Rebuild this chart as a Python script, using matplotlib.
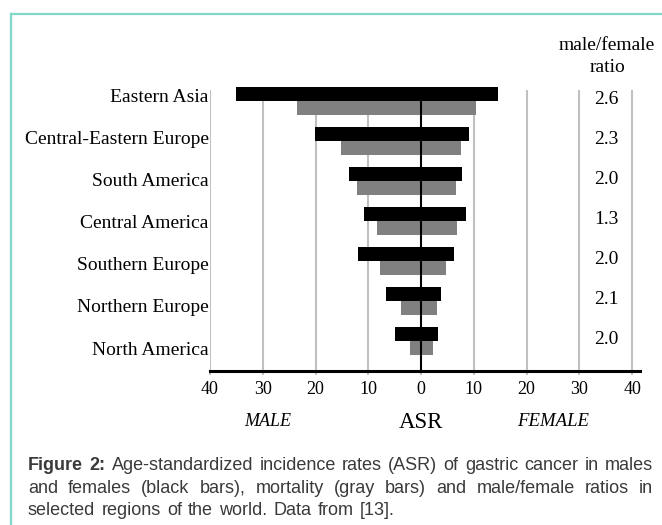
import matplotlib
matplotlib.use('Agg')
import matplotlib.pyplot as plt
from matplotlib.lines import Line2D

regions = ['Eastern Asia', 'Central-Eastern Europe', 'South America', 'Central America',
           'Southern Europe', 'Northern Europe', 'North America']
# incidence (black bars)
inc_male   = [35.1, 20.1, 13.7, 10.9, 11.9, 6.7, 4.9]
inc_female = [14.6, 9.0, 7.8, 8.5, 6.3, 3.7, 3.2]
# mortality (gray bars)
mort_male   = [23.6, 15.2, 12.2, 8.3, 7.8, 3.8, 2.0]
mort_female = [10.4, 7.6, 6.6, 6.9, 4.7, 3.1, 2.3]
ratios = ['2.6', '2.3', '2.0', '1.3', '2.0', '2.1', '2.0']
xticks = [-40, -30, -20, -10, 0, 10, 20, 30, 40]
xticklabels = ['40', '30', '20', '10', '0', '10', '20', '30', '40']

W, H = 662, 525
serif = 'Liberation Serif'
sans = 'Liberation Sans'

fig = plt.figure(figsize=(W / 100, H / 100), dpi=100)
fig.patch.set_facecolor('white')

# frame around the figure (only top and left visible)
fig.add_artist(Line2D([10.5 / W, 1.0], [1 - 14 / H, 1 - 14 / H], color='#80d8c8', lw=1.6))
fig.add_artist(Line2D([10.5 / W, 10.5 / W], [1 - 14 / H, 0.0], color='#80d8c8', lw=1.6))

ax = fig.add_axes([210 / W, 1 - 371 / H, 430 / W, 281 / H])
ax.set_xlim(-40, 41.5)
ax.set_ylim(6.75, -0.275)

n = len(regions)
ypos = list(range(n))
off = 0.181
bh = 0.3625

for x in xticks:
    if x != 0:
        ax.axvline(x, color='#c0c0c0', lw=1.5, zorder=1)

ax.barh([y - off for y in ypos], [m + f for m, f in zip(inc_male, inc_female)],
        left=[-m for m in inc_male], height=bh, color='black', zorder=2, clip_on=False)
ax.barh([y + off for y in ypos], [m + f for m, f in zip(mort_male, mort_female)],
        left=[-m for m in mort_male], height=bh, color='#808080', zorder=2, clip_on=False)
ax.axvline(0, color='black', lw=1.5, zorder=3)

for s in ['top', 'right', 'left']:
    ax.spines[s].set_visible(False)
ax.spines['bottom'].set_linewidth(2.2)
ax.spines['bottom'].set_color('black')
ax.spines['bottom'].set_zorder(4)

ax.set_xticks(xticks)
ax.set_xticklabels(xticklabels, fontfamily=serif, fontsize=13)
ax.tick_params(axis='x', length=3, width=1.5, color='#c0c0c0', pad=4)
# region labels sit on a slightly wider spacing than the bars
ax.set_yticks([y * 1.055 - 0.15 for y in ypos])
ax.set_yticklabels(regions, fontfamily=serif, fontsize=14)
ax.tick_params(axis='y', length=0, pad=1)

# male/female ratio column
for y, r in zip(ypos, ratios):
    ax.text(35.2, y - 0.05, r, ha='center', va='center', fontfamily=serif, fontsize=14)
fig.text(607 / W, 1 - 45 / H, 'male/female', ha='center', va='center', fontfamily=serif, fontsize=14)
fig.text(607 / W, 1 - 68 / H, 'ratio', ha='center', va='center', fontfamily=serif, fontsize=14)

fig.text(268 / W, 1 - 422 / H, 'MALE', ha='center', va='center', fontfamily=serif,
         fontsize=13, style='italic')
fig.text(421 / W, 1 - 422 / H, 'ASR', ha='center', va='center', fontfamily=serif, fontsize=16.5)
fig.text(553 / W, 1 - 422 / H, 'FEMALE', ha='center', va='center', fontfamily=serif,
         fontsize=13.5, style='italic')

# caption, words spread over each line's width
cap_lines = [
    [('Figure', 'bold'), ('2:', 'bold'), ('Age-standardized', 'normal'), ('incidence', 'normal'),
     ('rates', 'normal'), ('(ASR)', 'normal'), ('of', 'normal'), ('gastric', 'normal'),
     ('cancer', 'normal'), ('in', 'normal'), ('males', 'normal')],
    [(w, 'normal') for w in 'and females (black bars), mortality (gray bars) and male/female ratios in'.split()],
    [(w, 'normal') for w in 'selected regions of the world. Data from [13].'.split()],
]
baselines = [470, 493, 515]
line_ends = [653, 653, 395]
x0 = 28
cap_color = '#3a3a3a'
renderer = fig.canvas.get_renderer()
for words, yb, x1 in zip(cap_lines, baselines, line_ends):
    texts = [fig.text(0, 1 - yb / H, w, fontfamily=sans, fontsize=13, fontweight=wt,
                      color=cap_color, va='baseline', ha='left') for w, wt in words]
    widths = [t.get_window_extent(renderer).width for t in texts]
    gap = (x1 - x0 - sum(widths)) / (len(words) - 1)
    x = x0
    for t, w in zip(texts, widths):
        t.set_x(x / W)
        x += w + gap

fig.savefig('out.png', dpi=100)
